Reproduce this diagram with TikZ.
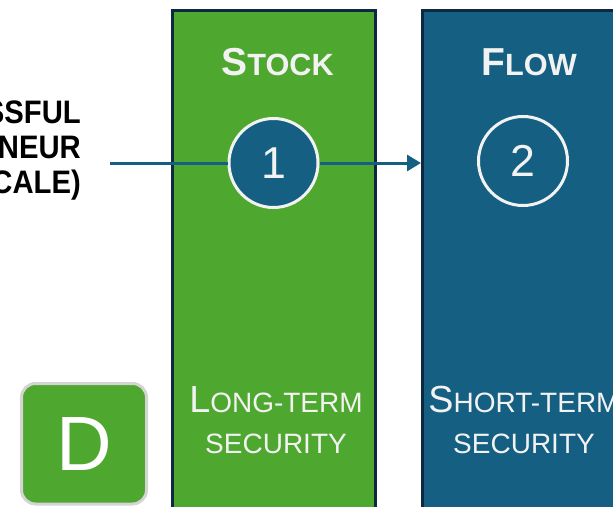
\documentclass[tikz,border=0pt]{standalone}
\usepackage{fontspec}
\setmainfont{Liberation Sans}
\newfontfamily\narrowbf[FakeStretch=0.9]{Liberation Sans Bold}
\usetikzlibrary{arrows.meta}
\definecolor{grn}{HTML}{4EA72E}
\definecolor{blu}{HTML}{156082}
\definecolor{navy}{HTML}{0E2841}
\definecolor{lite}{HTML}{F2F2F2}
\definecolor{gry}{HTML}{D4D4D4}
\newcommand\scbig[2]{{\fontsize{37.7}{40}\selectfont #1}{\fontsize{28}{30}\selectfont #2}}
\newcommand\schead[2]{{\bfseries\fontsize{39}{40}\selectfont #1}{\bfseries\fontsize{30.7}{32}\selectfont #2}}
\begin{document}
\begin{tikzpicture}[x=1pt,y=-1pt,
  col/.style={draw=navy, line width=3pt, rectangle, inner sep=0pt},
  numcirc/.style={circle, draw=lite, line width=3pt, fill=blu, text=lite, minimum size=89pt, inner sep=0pt, font=\fontsize{44.7}{46}\selectfont},
  lbl/.style={text=lite, inner sep=0pt, anchor=base},
  side/.style={text=black, inner sep=0pt, anchor=base east, font=\narrowbf\fontsize{32.5}{35}\selectfont},
  conn/.style={draw=blu, line width=3pt}]
\useasboundingbox (0,0) rectangle (613,506);
\clip (0,0) rectangle (613,506);
% columns
\node[col, fill=grn, minimum width=203pt, minimum height=520pt] (stock) at (274,270.5) {};
\node[col, fill=blu, minimum width=205pt, minimum height=520pt] (flow) at (525,270.5) {};
% headings
\node[lbl] (stockh) at (277.5,75) {\schead{S}{TOCK}};
\node[lbl] (flowh) at (529,75) {\schead{F}{LOW}};
% circles
\node[numcirc] (c1) at (273.5,163) {1};
\node[numcirc] (c2) at (523,161) {2};
% left text
\node[side] (l1) at (81,123) {SUCCESSFUL};
\node[side] (l2) at (81,158) {ENTREPRENEUR};
\node[side] (l3) at (81,193) {(SMALL SCALE)};
% connectors
\coordinate (src) at (110,163);
\draw[conn] (src) -- (c1.west);
\draw[conn, -{Triangle[length=14pt,width=16pt]}] (c1.east) -- (c1.east -| flow.west);
% bottom texts
\node[lbl] (lt1) at (276,412) {\scbig{L}{ONG-TERM}};
\node[lbl] (lt2) at (276,453) {\fontsize{28}{30}\selectfont SECURITY};
\node[lbl] (st1) at (524,412) {\scbig{S}{HORT-TERM}};
\node[lbl] (st2) at (524,453) {\fontsize{28}{30}\selectfont SECURITY};
% D box
\node[draw=gry, line width=3pt, fill=grn, rounded corners=14pt, minimum width=125pt, minimum height=120.5pt, inner sep=0pt, text=white, font=\fontsize{77}{80}\selectfont] (dbox) at (84,443.75) {D};
\end{tikzpicture}
\end{document}
